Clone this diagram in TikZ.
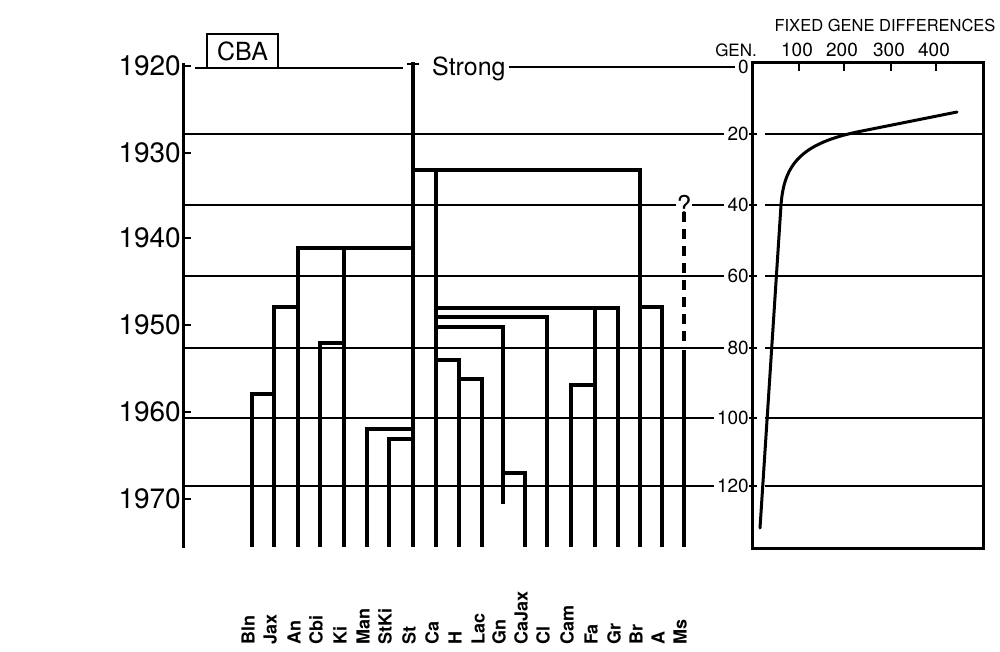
\documentclass[tikz,border=0pt]{standalone}
\usepackage{fontspec}
\setmainfont{TeX Gyre Heros}
\begin{document}
\begin{tikzpicture}[x=1pt,y=-1pt,
        branch/.style={line width=3.2pt, line cap=rect},
        axisline/.style={line width=3pt},
        gridline/.style={line width=1.2pt},
        tickline/.style={line width=2pt},
        yearlbl/.style={anchor=east, inner sep=0pt, font=\fontsize{28}{28}\selectfont},
        genlbl/.style={anchor=east, inner sep=0pt, font=\fontsize{19}{19}\selectfont},
        leaflbl/.style={rotate=90, anchor=mid west, inner sep=0pt, font=\bfseries\fontsize{18}{18}\selectfont}]
    \useasboundingbox (0,0) rectangle (1000,652);
    % time axis
    \draw[axisline] (183,63) -- (183,548);
    \foreach \yr/\yy in {1920/66,1930/153,1940/238,1950/325,1960/412,1970/499}{
        \draw[tickline] (183,\yy) -- (191,\yy);
        \node[yearlbl] (y\yr) at (181,\yy) {\yr};
    }
    \node[draw, line width=1.6pt, minimum width=71pt, minimum height=34pt, inner sep=0pt,
        font=\fontsize{25}{25}\selectfont] (cba) at (242.5,51) {CBA};
    \node[anchor=base west, inner sep=0pt, font=\fontsize{25}{25}\selectfont] (strong) at (432,76) {Strong};
    % generation scale
    \foreach \g/\yy in {0/67,20/134,40/205,60/276,80/348,100/418,120/486}
        \node[genlbl] (g\g) at (749,\yy) {\g};
    \node[font=\fontsize{26}{26}\selectfont, inner sep=1pt] (q) at (684,205) {?};
    \draw[gridline] (195,68) -- (403,68);
    \draw[gridline] ([xshift=3pt]strong.east |- g0.west) -- ([xshift=-3pt]g0.west);
    \draw[gridline] (185,205) -- (q.west);
    \draw[gridline] (q.east) -- ([xshift=-3pt]g40.west);
    \foreach \g/\yy in {20/134,60/276,80/348,100/418,120/486}
        \draw[gridline] (185,\yy) -- ([xshift=-3pt]g\g.west);
    \foreach \g/\yy in {20/134,40/205,60/276,80/348,100/418,120/486}{
        \draw[gridline] (765,\yy) -- (983,\yy);
        \draw[tickline] (g\g.east) -- (757,\yy);
    }
    % fixed gene differences panel
    \draw[axisline] (752,63) rectangle (983,548);
    \foreach \d/\xx in {100/799,200/844,300/891,400/936}{
        \draw[tickline] (\xx,63) -- (\xx,71);
        \node[inner sep=0pt, font=\fontsize{19}{19}\selectfont] (d\d) at (\xx-2,50) {\d};
    }
    \node[inner sep=0pt, font=\fontsize{17}{17}\selectfont] (gen) at (736,50) {GEN.};
    \node[inner sep=0pt, font=\fontsize{16.5}{16.5}\selectfont] (title) at (885,25) {FIXED GENE DIFFERENCES};
    \draw[line width=3pt, line cap=round] (957,112) -- (862,131)
        .. controls (800,143) and (784,165) .. (781,205) -- (760,528);
    % strains
    \foreach \nm/\xx/\tp/\bt in {Bln/252/394/545, Jax/274/307/545, An/298/248/545,
        Cbi/320/343/545, Ki/344/248/545, Man/367/429/545, StKi/389/439/545,
        St/413/64/545, Ca/436/170/545, H/459/360/545, Lac/482/379/545,
        Gn/503/327/502, CaJax/525/473/545, Cl/547/317/545, Cam/571/385/545,
        Fa/595/308/545, Gr/618/308/545, Br/640/170/545, A/662/307/545, Ms/684/352/545}{
        \coordinate (\nm-t) at (\xx,\tp);
        \coordinate (\nm-b) at (\xx,\bt);
        \draw[branch] (\nm-b) -- (\nm-t);
        \node[leaflbl] (\nm-l) at (\xx,645) {\nm};
    }
    \draw[line width=2pt] ([xshift=-6pt]St-t) -- ([xshift=6pt]St-t);
    \draw[branch, dash pattern=on 10pt off 7pt, line cap=butt] ([yshift=4pt]q.south) -- (684,345);
    % joins
    \draw[branch] (Bln-t) -- (Jax-t |- Bln-t);
    \draw[branch] (Jax-t) -- (An-t |- Jax-t);
    \draw[branch] (An-t) -- (St-t |- An-t);
    \draw[branch] (Cbi-t) -- (Ki-t |- Cbi-t);
    \draw[branch] (Man-t) -- (St-t |- Man-t);
    \draw[branch] (StKi-t) -- (St-t |- StKi-t);
    \draw[branch] (St-t |- Ca-t) -- (Br-t);
    \draw[branch] (Ca-t |- Gr-t) -- (Gr-t);
    \draw[branch] (Ca-t |- Cl-t) -- (Cl-t);
    \draw[branch] (Ca-t |- Gn-t) -- (Gn-t);
    \draw[branch] (Ca-t |- H-t) -- (H-t);
    \draw[branch] (H-t |- Lac-t) -- (Lac-t);
    \draw[branch] (Gn-t |- CaJax-t) -- (CaJax-t);
    \draw[branch] (Cam-t) -- (Fa-t |- Cam-t);
    \draw[branch] (Br-t |- A-t) -- (A-t);
\end{tikzpicture}
\end{document}
